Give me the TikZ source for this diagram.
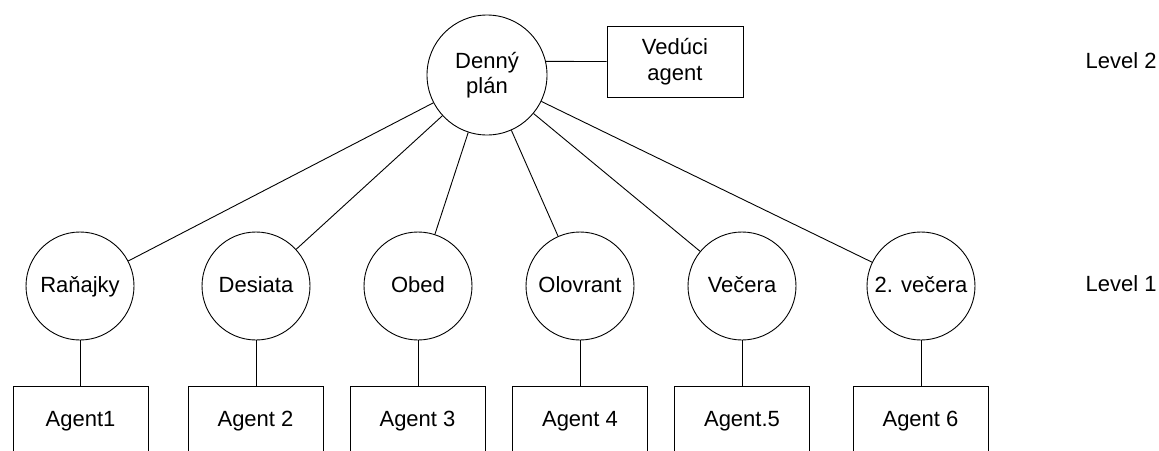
\documentclass[tikz,border=0pt]{standalone}
\usepackage{fontspec}
\setmainfont{Liberation Sans}
\begin{document}
\begin{tikzpicture}[x=1pt,y=-1pt,
  font=\fontsize{22}{25.5}\selectfont,
  line width=0.9pt,
  topcirc/.style={draw, circle, inner sep=0pt, minimum size=120pt, align=center},
  mealcirc/.style={draw, circle, inner sep=0pt, minimum size=108pt, text height=16pt, text depth=4pt},
  agentbox/.style={draw, rectangle, inner sep=0pt, minimum width=135pt, minimum height=68pt, text height=16pt, text depth=4pt},
  leadbox/.style={draw, rectangle, inner sep=0pt, minimum width=136pt, minimum height=71pt, align=center},
  lvl/.style={anchor=east, inner sep=0pt, text height=16pt, text depth=4pt}]
\useasboundingbox (0,0) rectangle (1159,450);
\clip (0,0) rectangle (1159,450);

\node[topcirc] (den) at (487,75) {Denný\\plán};
\node[leadbox] (ved) at (675,61.5) {Vedúci\\agent};

\node[mealcirc] (c1) at (80,286) {Raňajky};
\node[mealcirc] (c2) at (256,286) {Desiata};
\node[mealcirc] (c3) at (418,286) {Obed};
\node[mealcirc] (c4) at (580,286) {Olovrant};
\node[mealcirc] (c5) at (742,286) {Večera};
\node[mealcirc] (c6) at (921,286) {2. večera};

\node[agentbox] (b1) at (80.5,420) {Agent1};
\node[agentbox] (b2) at (255.5,420) {Agent 2};
\node[agentbox] (b3) at (417.5,420) {Agent 3};
\node[agentbox] (b4) at (580,420) {Agent 4};
\node[agentbox] (b5) at (742,420) {Agent.5};
\node[agentbox] (b6) at (920.5,420) {Agent 6};

\node[lvl] (l2) at (1157,62) {Level 2};
\node[lvl] (l1) at (1157,285) {Level 1};

\draw (ved.west) -- (den.13.5);
\foreach \i in {1,...,6} {
  \draw (den) -- (c\i);
  \draw (c\i.south) -- (c\i.south |- b\i.north);
}
\end{tikzpicture}
\end{document}
